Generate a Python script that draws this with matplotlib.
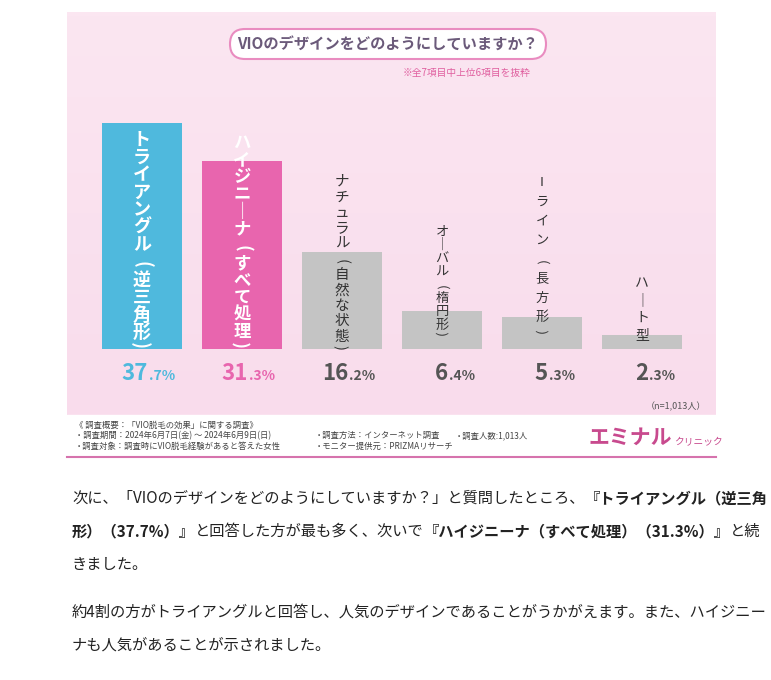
import matplotlib
matplotlib.use("Agg")
import matplotlib.pyplot as plt
import numpy as np
from matplotlib.patches import FancyBboxPatch, Rectangle
from matplotlib.colors import LinearSegmentedColormap

plt.rcParams["font.family"] = "Noto Sans CJK JP"

categories = ["トライアングル(逆三角形)", "ハイジニ｜ナ(すべて処理)", "ナチュラル(自然な状態)",
              "オ｜バル(楕円形)", "Iライン(長方形)", "ハ｜ト型"]
values = [37.7, 31.3, 16.2, 6.4, 5.3, 2.3]
colors = ["#4fb9dd", "#e865ae", "#c4c4c4", "#c4c4c4", "#c4c4c4", "#c4c4c4"]
pct_colors = ["#4fb9dd", "#e865ae", "#555555", "#555555", "#555555", "#555555"]

W, H = 771, 680
fig = plt.figure(figsize=(W/100, H/100), dpi=100)
bg = fig.add_axes([0, 0, 1, 1])
bg.set_xlim(0, W); bg.set_ylim(H, 0); bg.axis("off")
grad = np.linspace(0, 1, 100).reshape(-1, 1)
cm = LinearSegmentedColormap.from_list("p", ["#fbe6f1", "#f9dcec"])
bg.imshow(grad, extent=(67, 716, 415, 12), cmap=cm, aspect="auto", zorder=0)
bg.add_patch(Rectangle((67, 415), 649, 43, color="white", zorder=1))
bg.plot([67, 716], [457, 457], color="#d673ad", lw=1.5, zorder=2)
bg.add_patch(FancyBboxPatch((230, 29), 316, 30, boxstyle="round,pad=0,rounding_size=15",
                            fc="white", ec="#e98cc0", lw=1.5, zorder=2))
bg.text(388, 44, "VIOのデザインをどのようにしていますか？", fontsize=11, fontweight="bold",
        color="#6b5a7a", ha="center", va="center", zorder=3)
bg.text(530, 73, "※全7項目中上位6項目を抜粋", fontsize=7, color="#e060a0", ha="right", va="center")
bg.text(706, 407, "（n=1,013人）", fontsize=6.5, color="#555", ha="right", va="center")
foot = ["《 調査概要：「VIO脱毛の効果」に関する調査》",
        "・調査期間：2024年6月7日(金) ～ 2024年6月9日(日)",
        "・調査対象：調査時にVIO脱毛経験があると答えた女性"]
for i, t in enumerate(foot):
    bg.text(75, 425 + i*10.5, t, fontsize=6, color="#444", va="center")
bg.text(315, 435.5, "・調査方法：インターネット調査", fontsize=6, color="#444", va="center")
bg.text(315, 446, "・モニター提供元：PRIZMAリサーチ", fontsize=6, color="#444", va="center")
bg.text(455, 435.5, "・調査人数:1,013人", fontsize=6, color="#444", va="center")
bg.text(588, 437, "エミナル", fontsize=15, color="#c84a8e", va="center", fontweight="bold")
bg.text(674, 442, "クリニック", fontsize=7, color="#c84a8e", va="center")

ax = fig.add_axes([92/W, (H-349)/H, 600/W, 237/H])
ax.set_facecolor("none")
x = np.arange(len(values))
ax.bar(x, values, width=0.8, color=colors, zorder=2)
ax.set_xlim(-0.5, 5.5); ax.set_ylim(0, 39.5); ax.axis("off")
PX = 6.0
lab_style = [(140, 17.5, 13, "white"), (143, 17.2, 12.5, "white"), (182, 15.5, 10.5, "#333"),
             (232, 13.3, 9.5, "#333"), (183, 19.2, 9.5, "#333"), (283, 17.5, 10, "#333")]
for i, (c, v) in enumerate(zip(categories, values)):
    y0, step, fs, col = lab_style[i]
    for k, ch in enumerate(c):
        ypx = y0 + k*step
        glyph, rot = ch, 0
        if ch == "(":
            rot = -90
            ypx += 2
        elif ch == ")":
            glyph, rot = "(", 90
            ypx -= 6
        ax.text(i, (349 - ypx) / PX, glyph, ha="center", va="center", fontsize=fs, color=col,
                rotation=rot, fontweight="bold" if i < 2 else "normal", zorder=3)
    whole, dec = f"{v:.1f}".split(".")
    ax.text(i + 0.06, -4.0, whole, ha="right", va="center", fontsize=16, fontweight="bold",
            color=pct_colors[i])
    ax.text(i + 0.07, -4.5, "." + dec + "%", ha="left", va="center", fontsize=10, fontweight="bold",
            color=pct_colors[i])

def seg_line(y, segs, x0=72):
    xx = x0
    r = fig.canvas.get_renderer()
    for s, b in segs:
        t = bg.text(xx, y, s, fontsize=11, fontweight="bold" if b else "normal",
                    color="#222", va="center")
        xx += t.get_window_extent(renderer=r).width
seg_line(498, [("次に、「VIOのデザインをどのようにしていますか？」と質問したところ、", False),
               ("『トライアングル（逆三角", True)])
seg_line(531, [("形）（37.7%）』", True), ("と回答した方が最も多く、次いで", False),
               ("『ハイジニーナ（すべて処理）（31.3%）』", True), ("と続", False)])
seg_line(564, [("きました。", False)])
seg_line(612, [("約4割の方がトライアングルと回答し、人気のデザインであることがうかがえます。また、ハイジニー", False)])
seg_line(645, [("ナも人気があることが示されました。", False)])

fig.savefig("out.png", dpi=100)
